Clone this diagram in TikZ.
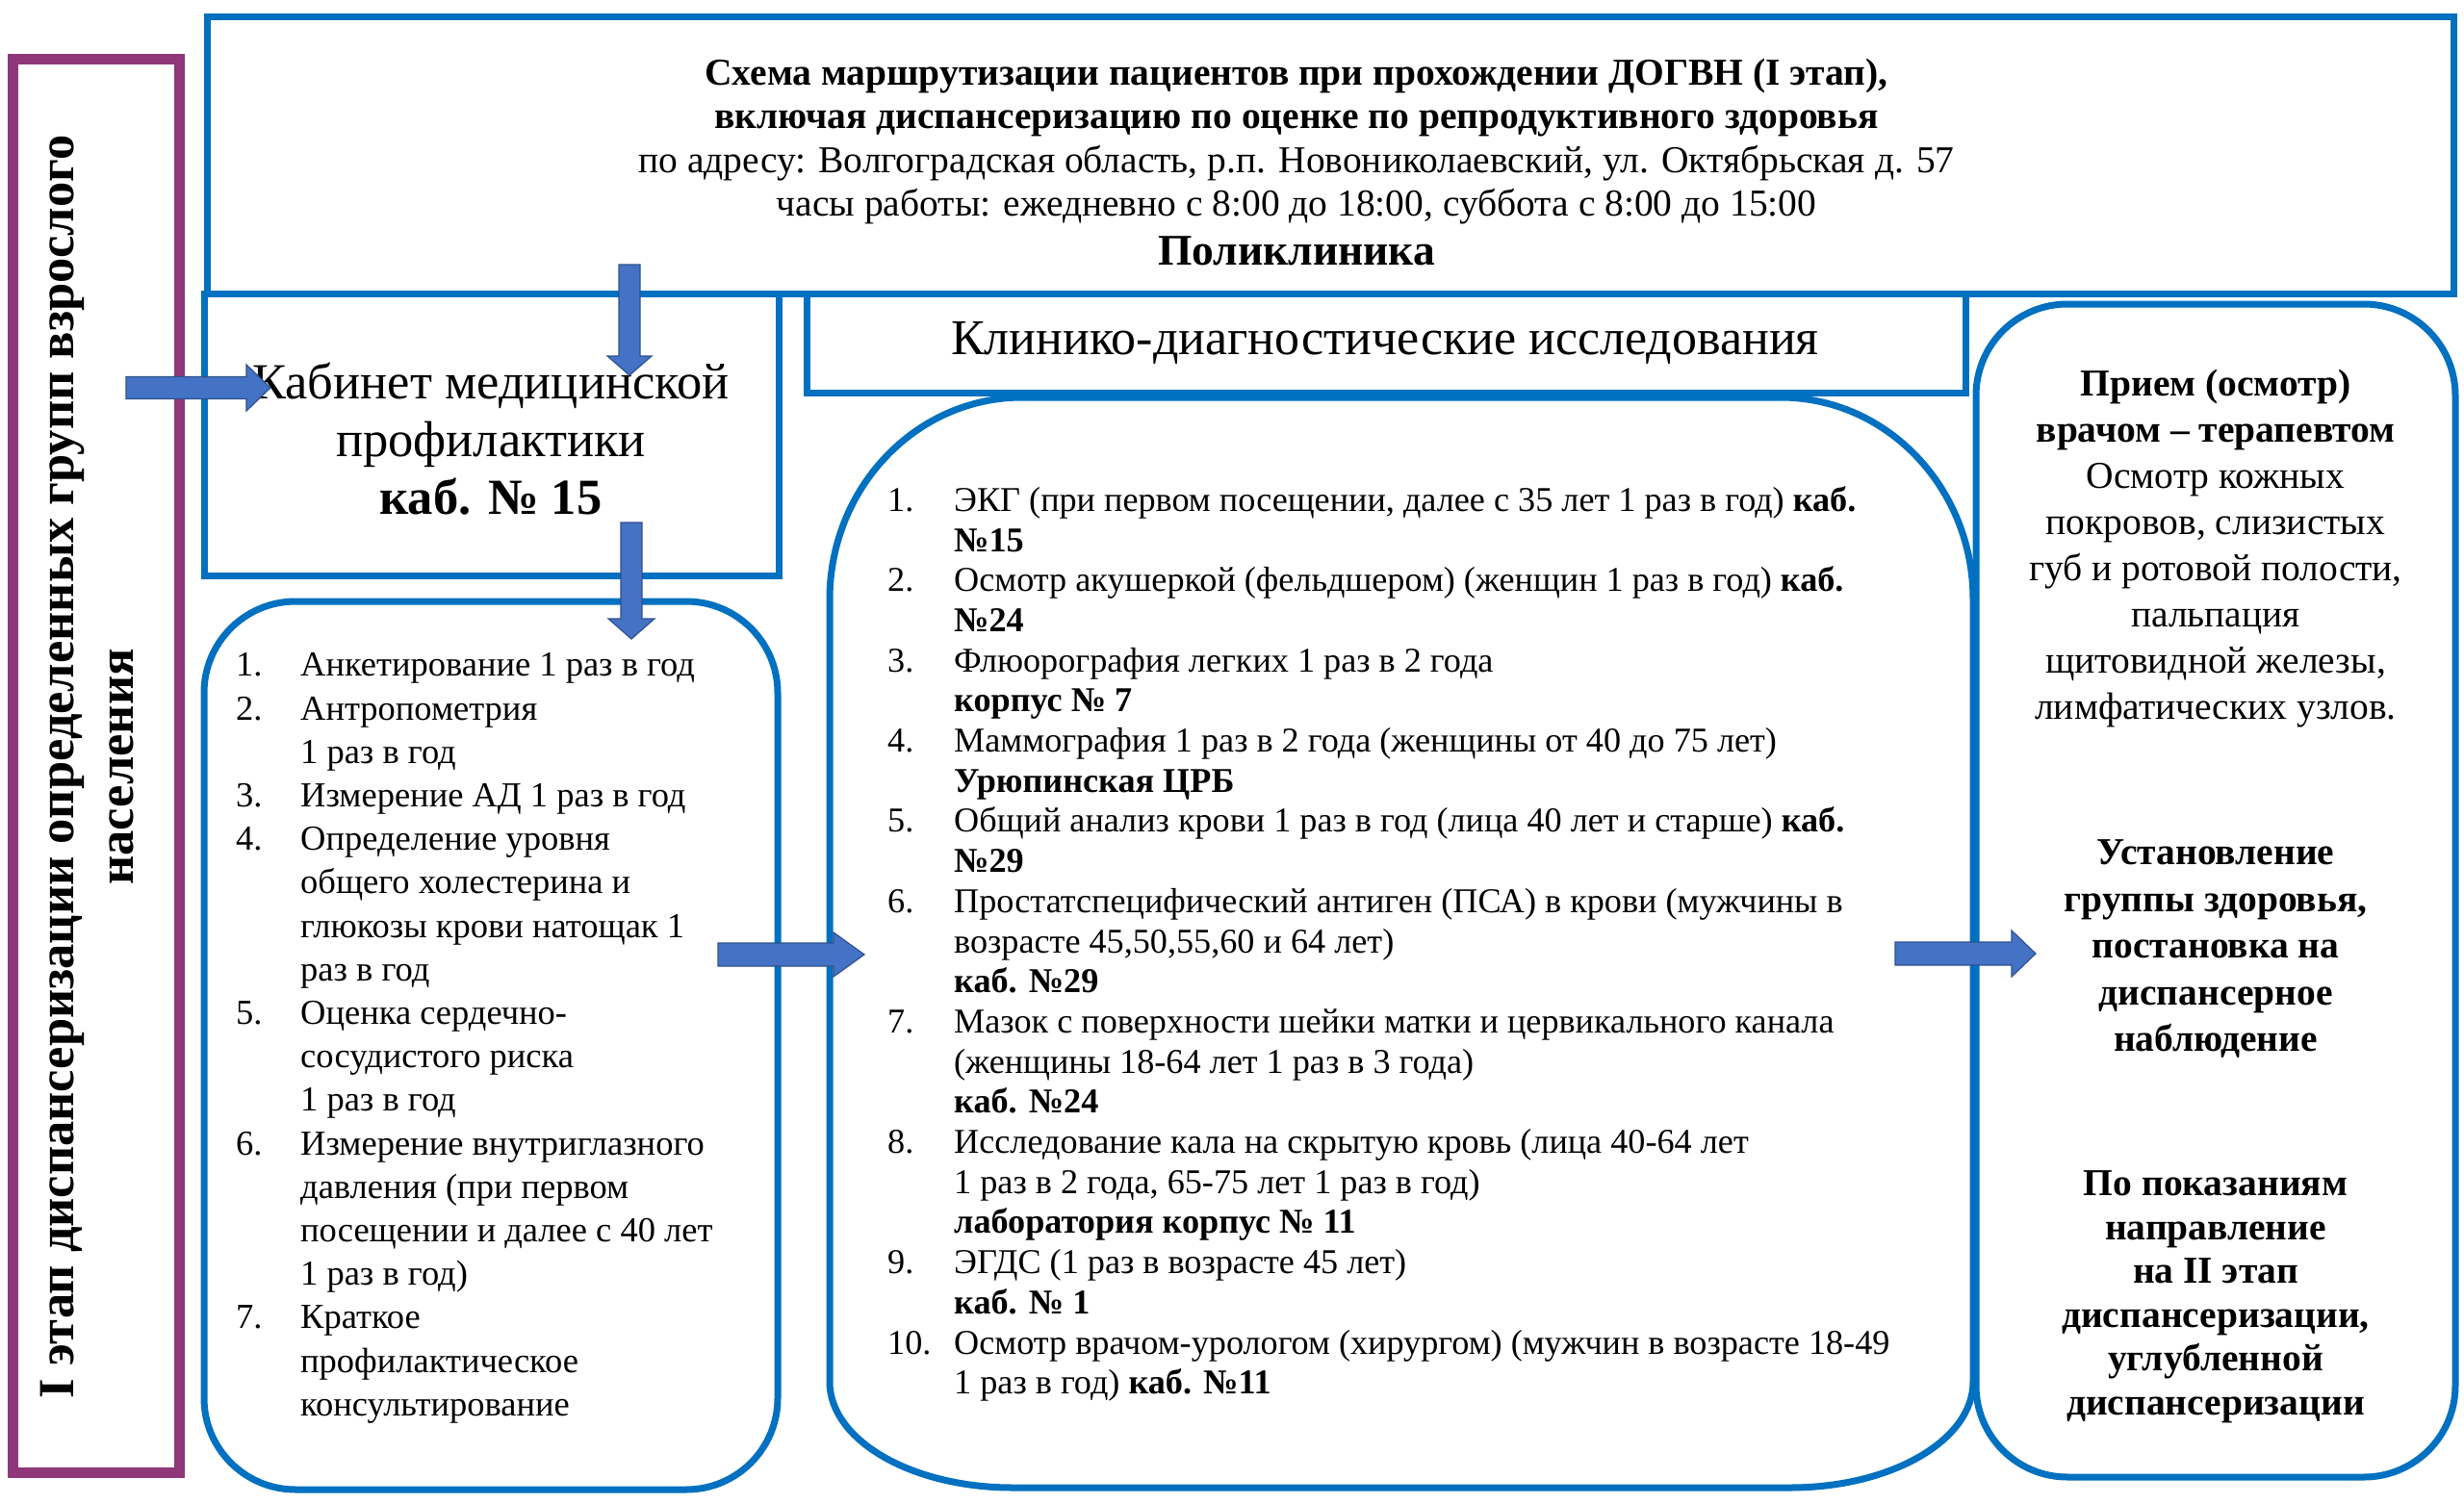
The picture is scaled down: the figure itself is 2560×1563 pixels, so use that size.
\documentclass[tikz,border=0pt]{standalone}
\usepackage{fontspec}
\setmainfont{Liberation Serif}
\usepackage{array}
\definecolor{boxblue}{RGB}{0,112,192}
\definecolor{arrowfill}{RGB}{68,114,196}
\definecolor{arrowline}{RGB}{47,82,143}
\definecolor{purpleline}{RGB}{142,56,122}
\newcommand{\rarrow}[6]{% x1, x2, y, shafthalf, headhalf, headlen
  \draw[blockarrow] ({#1},{#3-#4}) -- ({#2-#6},{#3-#4}) -- ({#2-#6},{#3-#5}) -- ({#2},{#3}) -- ({#2-#6},{#3+#5}) -- ({#2-#6},{#3+#4}) -- ({#1},{#3+#4}) -- cycle;}
\newcommand{\darrow}[6]{% x, y1, y2, shafthalf, headhalf, headlen
  \draw[blockarrow] ({#1-#4},{#2}) -- ({#1-#4},{#3-#6}) -- ({#1-#5},{#3-#6}) -- ({#1},{#3}) -- ({#1+#5},{#3-#6}) -- ({#1+#4},{#3-#6}) -- ({#1+#4},{#2}) -- cycle;}
\begin{document}
\begin{tikzpicture}[x=1pt,y=-1pt,
  bluebox/.style={draw=boxblue,line width=7pt},
  purplebox/.style={draw=purpleline,line width=11pt},
  blockarrow/.style={fill=arrowfill,draw=arrowline,line width=1.2pt},
  txt/.style={inner sep=0pt,align=center},
  listtxt/.style={inner sep=0pt,anchor=north west}]
\useasboundingbox[fill=white] (0,0) rectangle (2560,1563);

% frames
\draw[purplebox] (13,62) rectangle (186,1530);
\draw[bluebox] (215,18) rectangle (2549,305);
\draw[bluebox] (212,305) rectangle (809,598);
\draw[bluebox] (838,305) rectangle (2042,408);
\draw[bluebox,rounded corners=95pt] (212,625) rectangle (808,1548);
\draw[bluebox] (1062,413) -- (1850,413)
  arc[start angle=-90,end angle=0,x radius=200,y radius=210] -- (2050,1436)
  arc[start angle=0,end angle=90,x radius=190,y radius=110] -- (1052,1546)
  arc[start angle=90,end angle=180,x radius=190,y radius=110] -- (862,623)
  arc[start angle=180,end angle=270,x radius=200,y radius=210] -- cycle;
\draw[bluebox,rounded corners=95pt] (2053,316) rectangle (2551,1535);

% texts
\node[txt,rotate=90,font=\fontsize{52.5}{62}\selectfont\bfseries] (side) at (91,797)
  {I этап диспансеризации определенных групп взрослого\\населения};
\node[txt,font=\fontsize{39.5}{45.5}\selectfont] (title) at (1347,147)
  {\textbf{Схема маршрутизации пациентов при прохождении ДОГВН (I этап),}\\
   \textbf{включая диспансеризацию по оценке по репродуктивного здоровья}\\
   по адресу: Волгоградская область, р.п. Новониколаевский, ул. Октябрьская д. 57\\
   часы работы: ежедневно с 8:00 до 18:00, суббота с 8:00 до 15:00};
\node[txt,font=\fontsize{45.5}{50}\selectfont\bfseries] (poli) at (1347,261) {Поликлиника};
\node[txt,font=\fontsize{52.5}{60}\selectfont] (kab) at (510,456)
  {Кабинет медицинской\\профилактики\\\textbf{каб. № 15}};
\node[txt,font=\fontsize{52}{56}\selectfont] (klin) at (1439,356) {Клинико-диагностические исследования};

\node[listtxt,font=\fontsize{36.5}{45.2}\selectfont] (leftlist) at (245,671) {%
\begin{tabular}{@{}p{67pt}@{}l@{}}
1. & Анкетирование 1 раз в год\\
2. & Антропометрия\\
   & 1 раз в год\\
3. & Измерение АД 1 раз в год\\
4. & Определение уровня\\
   & общего холестерина и\\
   & глюкозы крови натощак 1\\
   & раз в год\\
5. & Оценка сердечно-\\
   & сосудистого риска\\
   & 1 раз в год\\
6. & Измерение внутриглазного\\
   & давления (при первом\\
   & посещении и далее с 40 лет\\
   & 1 раз в год)\\
7. & Краткое\\
   & профилактическое\\
   & консультирование
\end{tabular}};

\node[listtxt,font=\fontsize{36.2}{41.7}\selectfont] (midlist) at (922,502) {%
\begin{tabular}{@{}p{69pt}@{}l@{}}
1. & ЭКГ (при первом посещении, далее с 35 лет 1 раз в год) \textbf{каб.}\\
   & \textbf{№15}\\
2. & Осмотр акушеркой (фельдшером) (женщин 1 раз в год) \textbf{каб.}\\
   & \textbf{№24}\\
3. & Флюорография легких 1 раз в 2 года\\
   & \textbf{корпус № 7}\\
4. & Маммография 1 раз в 2 года (женщины от 40 до 75 лет)\\
   & \textbf{Урюпинская ЦРБ}\\
5. & Общий анализ крови 1 раз в год (лица 40 лет и старше) \textbf{каб.}\\
   & \textbf{№29}\\
6. & Простатспецифический антиген (ПСА) в крови (мужчины в\\
   & возрасте 45,50,55,60 и 64 лет)\\
   & \textbf{каб. №29}\\
7. & Мазок с поверхности шейки матки и цервикального канала\\
   & (женщины 18-64 лет 1 раз в 3 года)\\
   & \textbf{каб. №24}\\
8. & Исследование кала на скрытую кровь (лица 40-64 лет\\
   & 1 раз в 2 года, 65-75 лет 1 раз в год)\\
   & \textbf{лаборатория корпус № 11}\\
9. & ЭГДС (1 раз в возрасте 45 лет)\\
   & \textbf{каб. № 1}\\
10. & Осмотр врачом-урологом (хирургом) (мужчин в возрасте 18-49\\
   & 1 раз в год) \textbf{каб. №11}
\end{tabular}};

\node[txt,font=\fontsize{39.5}{48}\selectfont] (r1) at (2302,570)
  {\textbf{Прием (осмотр)}\\\textbf{врачом – терапевтом}\\Осмотр кожных\\покровов, слизистых\\губ и ротовой полости,\\пальпация\\щитовидной железы,\\лимфатических узлов.};
\node[txt,font=\fontsize{39.5}{48.5}\selectfont\bfseries] (r2) at (2302,986)
  {Установление\\группы здоровья,\\постановка на\\диспансерное\\наблюдение};
\node[txt,font=\fontsize{39.5}{45.5}\selectfont\bfseries] (r3) at (2302,1348)
  {По показаниям\\направление\\на II этап\\диспансеризации,\\углубленной\\диспансеризации};

% block arrows
\rarrow{131}{281}{403}{11.5}{24}{25}
\darrow{654}{275}{390}{11}{23}{20}
\darrow{656}{543}{664}{11}{24}{21}
\rarrow{746}{898}{992}{12}{23}{32}
\rarrow{1969}{2115}{991}{12}{24}{25}
\end{tikzpicture}
\end{document}
